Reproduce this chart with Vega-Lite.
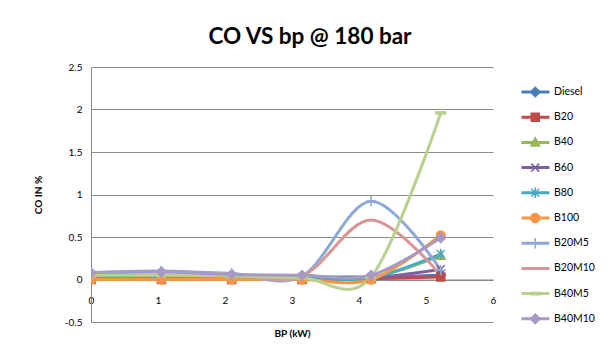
{
  "$schema": "https://vega.github.io/schema/vega-lite/v6.json",
  "width": 402,
  "height": 255,
  "autosize": "none",
  "padding": {"left": 91, "top": 67, "right": 116, "bottom": 32},
  "background": "white",
  "title": {"text": "CO VS bp @ 180 bar", "fontSize": 22.5, "fontWeight": "bold", "font": "Lato", "color": "#000000", "anchor": "middle", "frame": "group", "dx": 18, "offset": 14},
  "config": {
    "view": {"stroke": null},
    "font": "Lato",
    "axis": {"labelFont": "Lato", "titleFont": "Lato", "labelColor": "#000000", "titleColor": "#000000", "labelFontSize": 10, "titleFontSize": 10, "titleFontWeight": "bold"}
  },
  "data": {"values": [
    {"series": "Diesel", "bp": 0, "co": 0.05}, {"series": "Diesel", "bp": 1.05, "co": 0.05}, {"series": "Diesel", "bp": 2.1, "co": 0.04}, {"series": "Diesel", "bp": 3.15, "co": 0.03}, {"series": "Diesel", "bp": 4.18, "co": 0.03}, {"series": "Diesel", "bp": 5.22, "co": 0.05},
    {"series": "B20", "bp": 0, "co": 0}, {"series": "B20", "bp": 1.05, "co": 0}, {"series": "B20", "bp": 2.1, "co": 0}, {"series": "B20", "bp": 3.15, "co": 0}, {"series": "B20", "bp": 4.18, "co": 0.01}, {"series": "B20", "bp": 5.22, "co": 0.03},
    {"series": "B40", "bp": 0, "co": 0.03}, {"series": "B40", "bp": 1.05, "co": 0.03}, {"series": "B40", "bp": 2.1, "co": 0.02}, {"series": "B40", "bp": 3.15, "co": 0.02}, {"series": "B40", "bp": 4.18, "co": 0.02}, {"series": "B40", "bp": 5.22, "co": 0.28},
    {"series": "B60", "bp": 0, "co": 0.02}, {"series": "B60", "bp": 1.05, "co": 0.02}, {"series": "B60", "bp": 2.1, "co": 0.02}, {"series": "B60", "bp": 3.15, "co": 0.02}, {"series": "B60", "bp": 4.18, "co": 0.02}, {"series": "B60", "bp": 5.22, "co": 0.12},
    {"series": "B80", "bp": 0, "co": 0.03}, {"series": "B80", "bp": 1.05, "co": 0.03}, {"series": "B80", "bp": 2.1, "co": 0.02}, {"series": "B80", "bp": 3.15, "co": 0.02}, {"series": "B80", "bp": 4.18, "co": 0.02}, {"series": "B80", "bp": 5.22, "co": 0.3},
    {"series": "B100", "bp": 0, "co": 0}, {"series": "B100", "bp": 1.05, "co": 0}, {"series": "B100", "bp": 2.1, "co": 0}, {"series": "B100", "bp": 3.15, "co": 0}, {"series": "B100", "bp": 4.18, "co": 0}, {"series": "B100", "bp": 5.22, "co": 0.52},
    {"series": "B20M5", "bp": 0, "co": 0.08}, {"series": "B20M5", "bp": 1.05, "co": 0.1}, {"series": "B20M5", "bp": 2.1, "co": 0.07}, {"series": "B20M5", "bp": 3.15, "co": 0.04}, {"series": "B20M5", "bp": 4.18, "co": 0.92}, {"series": "B20M5", "bp": 5.22, "co": 0.11},
    {"series": "B20M10", "bp": 0, "co": 0.07}, {"series": "B20M10", "bp": 1.05, "co": 0.09}, {"series": "B20M10", "bp": 2.1, "co": 0.06}, {"series": "B20M10", "bp": 3.15, "co": 0.04}, {"series": "B20M10", "bp": 4.18, "co": 0.7}, {"series": "B20M10", "bp": 5.22, "co": 0.05},
    {"series": "B40M5", "bp": 0, "co": 0.05}, {"series": "B40M5", "bp": 1.05, "co": 0.05}, {"series": "B40M5", "bp": 2.1, "co": 0.04}, {"series": "B40M5", "bp": 3.15, "co": 0.02}, {"series": "B40M5", "bp": 4.18, "co": 0.03}, {"series": "B40M5", "bp": 5.22, "co": 1.96},
    {"series": "B40M10", "bp": 0, "co": 0.08}, {"series": "B40M10", "bp": 1.05, "co": 0.09}, {"series": "B40M10", "bp": 2.1, "co": 0.06}, {"series": "B40M10", "bp": 3.15, "co": 0.05}, {"series": "B40M10", "bp": 4.18, "co": 0.05}, {"series": "B40M10", "bp": 5.22, "co": 0.49}
  ]},
  "encoding": {
    "x": {"field": "bp", "type": "quantitative", "scale": {"domain": [0, 6], "nice": false, "zero": false},
      "axis": {"title": "BP (kW)", "values": [0, 1, 2, 3, 4, 5, 6], "offset": -42.5, "tickSize": 0, "grid": false, "domainColor": "#868686", "domainWidth": 1, "labelPadding": 16, "titlePadding": 23, "labelFlush": false}},
    "y": {"field": "co", "type": "quantitative", "scale": {"domain": [-0.5, 2.5], "nice": false, "zero": false},
      "axis": {"title": "CO IN %", "values": [-0.5, 0, 0.5, 1, 1.5, 2, 2.5], "labelExpr": "'' + datum.value", "tickSize": 0, "grid": true, "gridColor": "#8C8C8C", "gridWidth": 1, "domainColor": "#868686", "labelPadding": 9, "titlePadding": 21}}
  },
  "layer": [
    {
      "mark": {"type": "line", "interpolate": "cardinal", "strokeWidth": 3, "clip": true},
      "encoding": {
        "color": {"field": "series", "type": "nominal",
          "scale": {"domain": ["Diesel", "B20", "B40", "B60", "B80", "B100", "B20M5", "B20M10", "B40M5", "B40M10"],
                    "range": ["#4A7EBB", "#BE4B48", "#98B954", "#7D60A0", "#46AAC5", "#F79646", "#8EA9D8", "#D99694", "#B8D18E", "#A899C4"]},
          "legend": {"title": null, "orient": "none", "legendX": 429, "legendY": 19, "direction": "vertical", "padding": 0,
            "symbolType": "stroke", "symbolSize": 784, "symbolStrokeWidth": 3, "symbolOpacity": 1,
            "clipHeight": 12, "rowPadding": 13.2, "labelOffset": 3, "labelFont": "Lato", "labelFontSize": 10.5, "labelColor": "#000000"}}
      }
    },
    {
      "mark": {"type": "point", "filled": true, "opacity": 1, "size": 64, "strokeWidth": 1.5, "clip": true},
      "encoding": {
        "fill": {"field": "series", "type": "nominal",
          "scale": {"domain": ["Diesel", "B20", "B40", "B60", "B80", "B100", "B20M5", "B20M10", "B40M5", "B40M10", "~"],
                    "range": ["#4A7EBB", "#BE4B48", "#98B954", "#7D60A0", "#46AAC5", "#F79646", "#8EA9D8", "#D99694", "#B8D18E", "#A899C4", "#FFFFFF"]},
          "legend": {"title": null, "orient": "none", "legendX": 439, "legendY": 19, "direction": "vertical", "padding": 0,
            "symbolSize": 64, "symbolStrokeWidth": 1.5, "symbolOpacity": 1,
            "clipHeight": 12, "rowPadding": 13.2, "labelOffset": 4, "labelFont": "Lato", "labelFontSize": 10.5, "labelExpr": "''"}},
        "stroke": {"field": "series", "type": "nominal",
          "scale": {"domain": ["Diesel", "B20", "B40", "B60", "B80", "B100", "B20M5", "B20M10", "B40M5", "B40M10", "~"],
                    "range": ["#4A7EBB", "#BE4B48", "#98B954", "#7D60A0", "#46AAC5", "#F79646", "#8EA9D8", "#D99694", "#B8D18E", "#A899C4", "#FFFFFF"]}},
        "shape": {"field": "series", "type": "nominal",
          "scale": {"domain": ["Diesel", "B20", "B40", "B60", "B80", "B100", "B20M5", "B20M10", "B40M5", "B40M10", "~"],
                    "range": ["M0,-1.2L1.2,0L0,1.2L-1.2,0Z", "M-1,-1L1,-1L1,1L-1,1Z", "M0,-1.2L1.1,0.9L-1.1,0.9Z", "M-1,-1L1,1M-1,1L1,-1", "M-1,-1L1,1M-1,1L1,-1M0,-1.3L0,1.3", "M-1.1,0A1.1,1.1 0 1,0 1.1,0A1.1,1.1 0 1,0 -1.1,0Z", "M0,-1.3L0,1.3M-1.3,0L1.3,0", "M0,0", "M-1.2,-0.3L1.2,-0.3L1.2,0.3L-1.2,0.3Z", "M0,-1.2L1.2,0L0,1.2L-1.2,0Z", "M0,0"]}}
      }
    }
  ]
}
